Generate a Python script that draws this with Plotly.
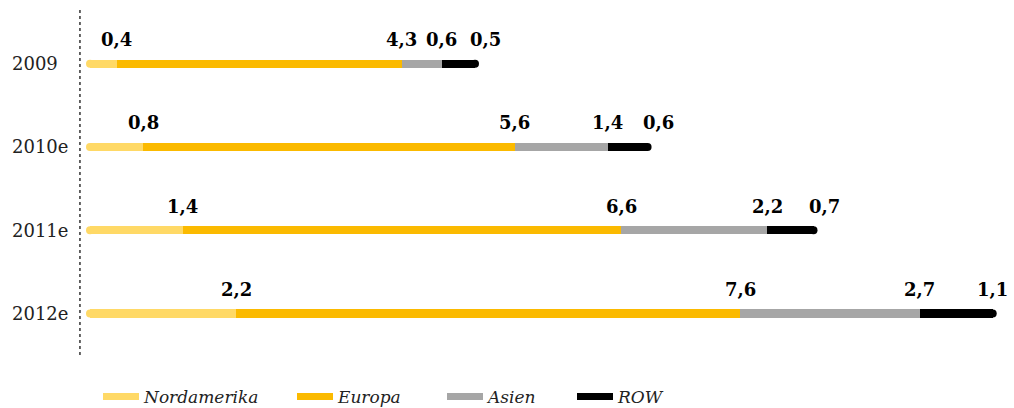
import plotly.graph_objects as go

categories = ["2009", "2010e", "2011e", "2012e"]
series_names = ["Nordamerika", "Europa", "Asien", "ROW"]
nordamerika = [0.4, 0.8, 1.4, 2.2]
europa = [4.3, 5.6, 6.6, 7.6]
asien = [0.6, 1.4, 2.2, 2.7]
row = [0.5, 0.6, 0.7, 1.1]
colors = ["#FFD966", "#FBBA00", "#A6A6A6", "#000000"]

series = [nordamerika, europa, asien, row]
ypos = list(range(len(categories)))
FONT = "DejaVu Serif"

fig = go.Figure()

for name, vals, col in zip(series_names, series, colors):
    fig.add_trace(go.Bar(
        y=ypos, x=vals, orientation="h", name=name,
        marker=dict(color=col, line=dict(width=0)),
        width=0.1, showlegend=False, hoverinfo="x+name",
    ))

totals = [sum(s[i] for s in series) for i in range(len(categories))]
fig.add_trace(go.Scatter(
    x=[0] * len(categories), y=ypos, mode="markers",
    marker=dict(color=colors[0], size=8, line=dict(width=0)),
    showlegend=False, hoverinfo="skip", cliponaxis=False,
))
fig.add_trace(go.Scatter(
    x=totals, y=ypos, mode="markers",
    marker=dict(color=colors[3], size=8, line=dict(width=0)),
    showlegend=False, hoverinfo="skip", cliponaxis=False,
))

legend_ids = ["legend", "legend2", "legend3", "legend4"]
legend_x = [98, 292, 442, 572]
for name, col, lid in zip(series_names, colors, legend_ids):
    fig.add_trace(go.Scatter(
        x=[None], y=[None], mode="lines", name=name,
        line=dict(color=col, width=7), legend=lid,
    ))

annotations = []
for i in range(len(categories)):
    cum = 0
    for k, vals in enumerate(series):
        cum += vals[i]
        shift = 0
        if k == 3 and totals[i] < 13:
            shift = 11
        annotations.append(dict(
            x=cum, y=ypos[i], xref="x", yref="y",
            text=f"{vals[i]:.1f}".replace(".", ","),
            showarrow=False, xanchor="center", yanchor="middle",
            yshift=24, xshift=shift,
            font=dict(family=FONT, size=18, color="#000000", weight="bold"),
        ))

for i, c in enumerate(categories):
    annotations.append(dict(
        x=-0.0875, y=ypos[i], xref="paper", yref="y",
        text=c, showarrow=False, xanchor="left", yanchor="middle",
        font=dict(family=FONT, size=18, color="#222222"),
    ))

legend_common = dict(
    orientation="h", xref="container", yref="container",
    xanchor="left", yanchor="middle", y=1 - 397 / 408,
    font=dict(family=FONT, size=17, color="#222222", style="italic"),
    bgcolor="rgba(0,0,0,0)", itemwidth=36,
)
legend_layout = {}
for lid, lx in zip(legend_ids, legend_x):
    legend_layout[lid] = dict(legend_common, x=lx / 1014)

fig.update_layout(
    width=1014, height=408,
    margin=dict(l=90, r=10, t=8, b=53),
    paper_bgcolor="white", plot_bgcolor="white",
    barmode="stack",
    xaxis=dict(range=[0, 13.77], visible=False, fixedrange=True),
    yaxis=dict(range=[3.5, -0.67], showticklabels=False, showgrid=False,
               zeroline=False, showline=False, fixedrange=True),
    annotations=annotations,
    shapes=[dict(type="line", xref="paper", yref="paper",
                 x0=-0.011, x1=-0.011, y0=0, y1=1,
                 line=dict(color="#333333", width=1.5, dash="dot"))],
    showlegend=True,
    font=dict(family=FONT),
    **legend_layout,
)

fig.write_html("out.html")
